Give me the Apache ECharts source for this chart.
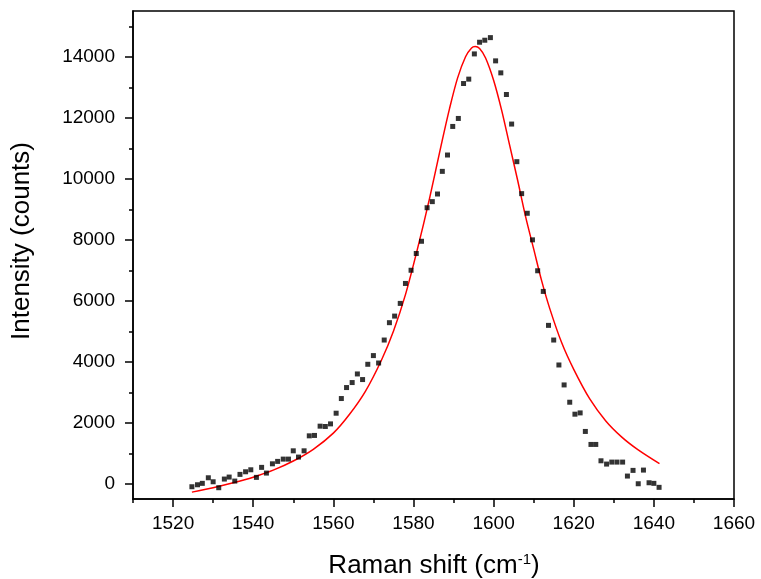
<!DOCTYPE html>
<html>
<head>
<meta charset="utf-8">
<script src="https://cdn.jsdelivr.net/npm/echarts@6/dist/echarts.min.js"></script>
<style>
html,body{margin:0;padding:0;background:#fff;}
#chart{width:761px;height:579px;}
</style>
</head>
<body>
<div id="chart"></div>
<script>
// Measured data (black squares)
var ramanShift = [1524.7,1526.1,1527.3,1528.8,1530.0,1531.4,1532.8,1534.0,1535.4,1536.7,1538.1,1539.4,1540.8,1542.1,1543.3,1544.8,1546.1,1547.5,1548.8,1550.0,1551.3,1552.7,1554.0,1555.3,1556.7,1558.0,1559.3,1560.7,1562.0,1563.3,1564.7,1566.0,1567.3,1568.6,1570.0,1571.3,1572.7,1574.0,1575.3,1576.7,1578.0,1579.4,1580.7,1582.0,1583.4,1584.7,1586.0,1587.2,1588.5,1589.8,1591.2,1592.5,1593.8,1595.2,1596.5,1597.8,1599.2,1600.5,1601.8,1603.2,1604.5,1605.8,1607.0,1608.4,1609.7,1611.0,1612.4,1613.7,1615.0,1616.3,1617.6,1619.0,1620.3,1621.6,1622.9,1624.3,1625.5,1626.8,1628.2,1629.5,1630.8,1632.2,1633.4,1634.8,1636.1,1637.4,1638.8,1640.0,1641.3];
var intensity = [-98,-33,13,196,65,-130,154,219,88,307,393,458,209,537,350,654,733,808,808,1080,874,1080,1571,1584,1888,1878,1963,2313,2794,3154,3318,3600,3416,3917,4202,3959,4712,5281,5497,5913,6567,7000,7550,7950,9050,9250,9500,10242,10778,11715,11977,13122,13266,14093,14476,14542,14627,13865,13472,12762,11793,10560,9512,8868,7997,6983,6306,5193,4712,3894,3240,2673,2281,2323,1715,1289,1289,753,645,710,710,710,252,438,0,448,33,13,-118];

// Fitted curve (red)
var fitShift = [1524.7,1530,1535,1540,1545,1550,1555,1560,1564,1568,1572,1575,1578,1581,1584,1587,1589,1591,1593,1594.5,1595.4,1596.5,1598,1600,1602,1604,1606,1608,1610,1612,1614,1617,1620,1624,1628,1632,1636,1641.4];
var fitIntensity = [-275,-130,30,215,445,745,1130,1660,2270,3030,4050,5000,6200,7700,9350,11150,12300,13300,14000,14290,14332,14270,13960,13230,12250,11100,9950,8750,7700,6650,5750,4620,3750,2780,2060,1530,1120,660];

var xMajor = [1520,1540,1560,1580,1600,1620,1640,1660];
var xMinor = [1510,1520,1530,1540,1550,1560,1570,1580,1590,1600,1610,1620,1630,1640,1650,1660];
var yMajor = [0,2000,4000,6000,8000,10000,12000,14000];
var yMinor = [0,1000,2000,3000,4000,5000,6000,7000,8000,9000,10000,11000,12000,13000,14000,15000];

var FONT = "'Liberation Sans', Arial, sans-serif";
function zip(a,b){var r=[];for(var i=0;i<a.length;i++)r.push([a[i],b[i]]);return r;}
function plain(v){return String(v);}

var chart = echarts.init(document.getElementById('chart'));
var axisLineStyle = {color:'#000', width:1.5};
chart.setOption({
  animation:false,
  backgroundColor:'#fff',
  grid:{left:133, top:11, right:27, bottom:80, show:true, borderColor:'#000', borderWidth:1.5, backgroundColor:'transparent'},
  xAxis:[{
    type:'value', min:1510, max:1660,
    axisLine:{show:true, onZero:false, lineStyle:axisLineStyle},
    axisTick:{show:true, customValues:xMinor, length:4, lineStyle:axisLineStyle},
    axisLabel:{customValues:xMajor, formatter:plain, fontSize:19, color:'#000', fontFamily:FONT, margin:15},
    splitLine:{show:false}
  },{
    type:'value', min:1510, max:1660, position:'bottom',
    axisLine:{show:false, onZero:false},
    axisTick:{show:true, customValues:xMajor, length:8, lineStyle:axisLineStyle},
    axisLabel:{show:false},
    splitLine:{show:false}
  }],
  yAxis:[{
    type:'value', min:-500, max:15500,
    axisLine:{show:true, onZero:false, lineStyle:axisLineStyle},
    axisTick:{show:true, customValues:yMinor, length:4, lineStyle:axisLineStyle},
    axisLabel:{customValues:yMajor, formatter:plain, fontSize:19, color:'#000', fontFamily:FONT, margin:18},
    splitLine:{show:false}
  },{
    type:'value', min:-500, max:15500, position:'left',
    axisLine:{show:false, onZero:false},
    axisTick:{show:true, customValues:yMajor, length:8, lineStyle:axisLineStyle},
    axisLabel:{show:false},
    splitLine:{show:false}
  }],
  graphic:[{
    type:'text', x:22, y:241, rotation:Math.PI/2,
    style:{text:'Intensity (counts)', font:'26px '+FONT, fill:'#000', textAlign:'center', textVerticalAlign:'middle'}
  },{
    type:'text', x:434, y:566,
    style:{text:'Raman shift (cm{sup|-1})', font:'26px '+FONT, fill:'#000', textAlign:'center', textVerticalAlign:'middle',
      rich:{sup:{fontSize:15, fontFamily:FONT, verticalAlign:'top', padding:[0,0,13,0]}}}
  }],
  series:[{
    type:'line', xAxisIndex:0, yAxisIndex:0,
    data:zip(fitShift, fitIntensity), smooth:0.3, showSymbol:false,
    lineStyle:{color:'#ff0000', width:1.5}, z:2
  },{
    type:'scatter', xAxisIndex:0, yAxisIndex:0,
    data:zip(ramanShift, intensity), symbol:'rect', symbolSize:5,
    itemStyle:{color:'#000'}, z:3
  }]
});
</script>
</body>
</html>
